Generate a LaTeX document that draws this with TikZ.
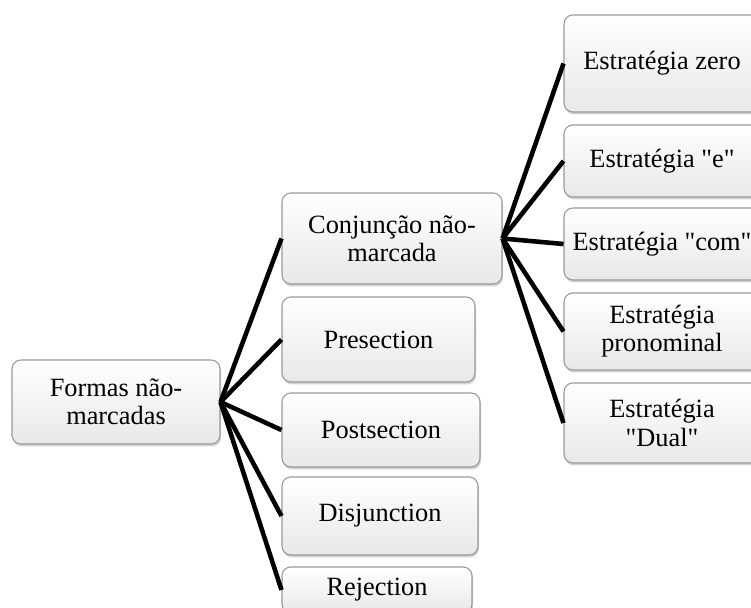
\documentclass[tikz,border=0pt]{standalone}
\usepackage{fontspec}
\setmainfont{Liberation Serif}[Ligatures=TeXOff]
\usetikzlibrary{shadows}

\begin{document}
\begin{tikzpicture}[x=0.02cm,y=-0.02cm,line join=round,
        caixa/.style={draw=black!40,line width=0.6pt,rounded corners=5pt,
            top color=white,bottom color=black!9,align=center,inner sep=1pt,
            font=\fontsize{15}{16}\selectfont,
            drop shadow={opacity=0.35,shadow xshift=0.6pt,shadow yshift=-1.4pt}},
        ligacao/.style={line width=2.6pt}]
    \useasboundingbox (0,0) rectangle (751,608);

    % Raiz
    \node[caixa,minimum width=4.16cm,minimum height=1.68cm] (raiz) at (116,402) {Formas não-\\marcadas};

    % Primeiro nivel
    \node[caixa,minimum width=4.40cm,minimum height=1.82cm] (conj) at (392,238.5) {Conjunção não-\\marcada};
    \node[caixa,minimum width=3.86cm,minimum height=1.70cm] (pres) at (378.5,339.5) {Presection};
    \node[caixa,minimum width=3.96cm,minimum height=1.48cm] (post) at (381,430) {Postsection};
    \node[caixa,minimum width=3.92cm,minimum height=1.56cm] (disj) at (380,516) {Disjunction};
    \node[caixa,minimum width=3.80cm,minimum height=0.92cm] (rej) at (377,590) {Rejection};

    % Segundo nivel (estrategias)
    \node[caixa,minimum width=3.92cm,minimum height=1.94cm] (zero) at (662,63.5) {Estratégia zero};
    \node[caixa,minimum width=3.92cm,minimum height=1.44cm] (e) at (662,161) {Estratégia "e"};
    \node[caixa,minimum width=3.92cm,minimum height=1.44cm] (com) at (662,244) {Estratégia "com"};
    \node[caixa,minimum width=3.92cm,minimum height=1.54cm] (pron) at (662,331.5) {Estratégia\\pronominal};
    \node[caixa,minimum width=3.92cm,minimum height=1.60cm] (dual) at (662,423) {Estratégia\\"Dual"};

    % Ligacoes
    \foreach \filho in {conj,pres,post,disj,rej}
        \draw[ligacao] (raiz.east) -- (\filho.west);
    \foreach \filho in {zero,e,com,pron,dual}
        \draw[ligacao] (conj.east) -- (\filho.west);

\end{tikzpicture}
\end{document}
